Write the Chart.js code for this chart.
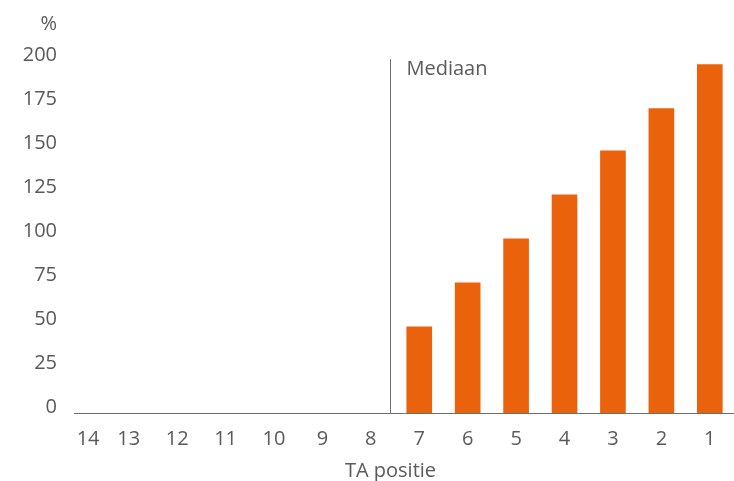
<!DOCTYPE html>
<html>
<head>
<meta charset="utf-8">
<script src="https://cdn.jsdelivr.net/npm/chart.js@4/dist/chart.umd.min.js"></script>
<style>
  html, body { margin: 0; padding: 0; background: #fff; }
  #wrap { width: 734px; height: 481px; }
</style>
</head>
<body>
<div id="wrap"><canvas id="chart"></canvas></div>
<script>
// ─── DATA ─────────────────────────────────────────────────────────────────────
const positions = [14, 13, 12, 11, 10, 9, 8, 7, 6, 5, 4, 3, 2, 1];
// positions 14..8 have no bar in the reference
const values = [null, null, null, null, null, null, null, 49, 74, 99, 124, 149, 173, 198];
const yTicks = [0, 25, 50, 75, 100, 125, 150, 175, 200];
const medianPos = 7.6;
const medianLabel = 'Mediaan';
const xTitle = 'TA positie';
const yUnit = '%';

const textColor = '#5a5a5a';
const lineColor = '#6e6e6e';
const barColor = '#eb620c';
const fontFamily = '"Open Sans", sans-serif';

// Median line, its label, unit and x title
const overlay = {
  id: 'overlay',
  afterDraw(chart) {
    const { ctx, scales: { x, y } } = chart;
    const mx = Math.round(x.getPixelForValue(medianPos)) + 0.5;
    ctx.save();
    ctx.strokeStyle = lineColor;
    ctx.lineWidth = 1;
    ctx.beginPath();
    ctx.moveTo(mx, y.getPixelForValue(201));
    ctx.lineTo(mx, y.getPixelForValue(0));
    ctx.stroke();

    ctx.fillStyle = textColor;
    ctx.font = '20px ' + fontFamily;
    ctx.textBaseline = 'alphabetic';
    ctx.textAlign = 'left';
    ctx.fillText(medianLabel, mx + 16, y.getPixelForValue(200) + 14);

    ctx.textAlign = 'right';
    ctx.fillText(yUnit, y.right - 17, y.top - 31);

    ctx.textAlign = 'center';
    ctx.fillText(xTitle, mx, chart.height - 4);
    ctx.restore();
  }
};

new Chart(document.getElementById('chart'), {
  type: 'bar',
  data: {
    datasets: [{
      data: positions.map((p, i) => ({ x: p, y: values[i] })),
      backgroundColor: barColor,
      barThickness: 25,
      borderWidth: 0
    }]
  },
  options: {
    responsive: true,
    maintainAspectRatio: false,
    animation: false,
    layout: { padding: { top: 61, right: 0, bottom: 0, left: 0 } },
    plugins: { legend: { display: false }, tooltip: { enabled: false } },
    scales: {
      x: {
        type: 'linear',
        reverse: true,
        offset: false,
        min: 0.5,
        max: 14.13,
        afterBuildTicks: scale => { scale.ticks = positions.map(v => ({ value: v })); },
        afterFit: scale => { scale.height = 68; },
        grid: { display: false, drawTicks: false, offset: false },
        border: { display: true, color: lineColor, width: 1 },
        ticks: {
          autoSkip: false,
          maxRotation: 0,
          padding: 14,
          color: textColor,
          font: { family: fontFamily, size: 20 },
          // first label sits a little to the right in the reference
          callback: v => (v === 14 ? '\u00a0\u00a0\u00a0' + v : String(v))
        }
      },
      y: {
        min: 0,
        max: 200,
        afterBuildTicks: scale => { scale.ticks = yTicks.map(v => ({ value: v })); },
        afterFit: scale => { scale.width = 74; },
        grid: { display: false, drawTicks: false },
        border: { display: false },
        ticks: {
          padding: 17,
          labelOffset: -6,
          color: textColor,
          font: { family: fontFamily, size: 20 }
        }
      }
    }
  },
  plugins: [overlay]
});
</script>
</body>
</html>
